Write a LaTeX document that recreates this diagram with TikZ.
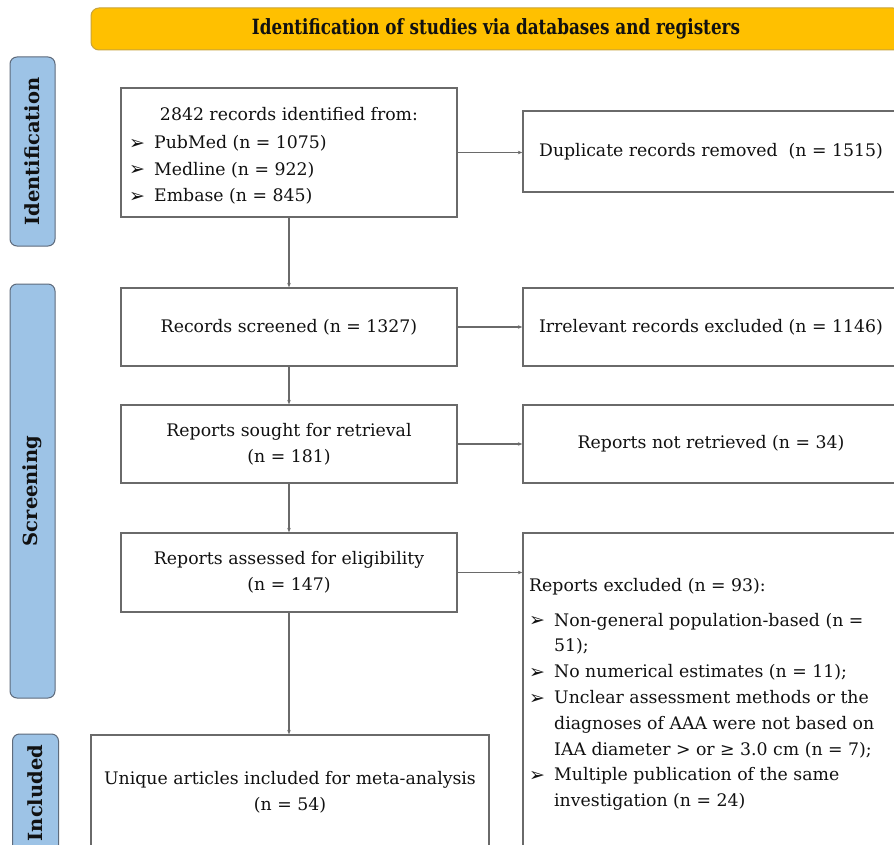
\documentclass[tikz,border=0pt]{standalone}
\usepackage{fontspec}
\setmainfont{DejaVu Serif}
\newfontfamily\symf{DejaVu Sans}
\usetikzlibrary{arrows.meta}
\definecolor{bannerfill}{HTML}{FFC000}
\definecolor{bannerdraw}{HTML}{C9A43A}
\definecolor{sidefill}{HTML}{9DC3E6}
\definecolor{sidedraw}{HTML}{5E6B7C}
\definecolor{linegray}{HTML}{6A6A6A}
\definecolor{textcol}{HTML}{111111}
\newcommand\mainsz{\fontsize{17.3}{25.8}\selectfont}
\newcommand\bul{\makebox[25pt][l]{\raisebox{-0.5pt}{\symf\fontsize{19}{19}\selectfont ➢}}}
\begin{document}
\begin{tikzpicture}[x=1pt,y=1pt,
  box/.style={draw=linegray, line width=1.3pt, rectangle, inner sep=0pt, fill=white, text=textcol, font=\mainsz, align=center},
  side/.style={draw=sidedraw, fill=sidefill, rounded corners=7pt, line width=1pt, text=textcol, font=\fontsize{19.5}{19.5}\selectfont\bfseries, inner sep=0pt},
  conn/.style={draw=linegray, line width=1.2pt, -{Stealth[length=4.5pt,width=3.5pt]}},
  txt/.style={text=textcol, font=\mainsz, inner sep=0pt}
]
\useasboundingbox (0,0) rectangle (894,-845);
\clip (0,0) rectangle (894,-845);
\fill[white] (0,0) rectangle (894,-845);

% banner
\node[draw=bannerdraw, fill=bannerfill, rounded corners=8pt, line width=1pt,
      minimum width=810pt, minimum height=42pt, inner sep=0pt, text=textcol]
  (banner) at (496,-29) {\scalebox{0.8}[1]{\fontsize{21}{21}\selectfont\bfseries Identification of studies via databases and registers}};

% side bars
\node[side, rotate=90, minimum width=189pt, minimum height=45pt] (sideid) at (32.5,-151.5) {Identification};
\node[side, rotate=90, minimum width=414pt, minimum height=45pt] (sidescr) at (32.5,-491) {Screening};
\node[side, rotate=90, minimum width=118pt, minimum height=46pt] (sideinc) at (35.5,-793) {Included};

% left column
\node[box, minimum width=336pt, minimum height=129pt] (ident) at (289,-152.5) {};
\node[txt, anchor=base] (identhead) at (289,-121) {2842 records identified from:};
\node[txt, anchor=north west, align=left, font=\fontsize{17.3}{26.5}\selectfont] (identlist) at (129,-135.5)
  {\bul PubMed (n = 1075)\\ \bul Medline (n = 922)\\ \bul Embase (n = 845)};

\node[box, minimum width=336pt, minimum height=78pt] (scr) at (289,-327) {Records screened (n = 1327)};
\node[box, minimum width=336pt, minimum height=78pt] (sought) at (289,-444) {Reports sought for retrieval\\(n = 181)};
\node[box, minimum width=336pt, minimum height=79pt] (assess) at (289,-572.5) {Reports assessed for eligibility\\(n = 147)};
\node[box, minimum width=398pt, minimum height=114pt] (incl) at (290,-792) {Unique articles included for meta-analysis\\(n = 54)};

% right column
\node[box, minimum width=376pt, minimum height=81pt] (dup) at (711,-151.5) {Duplicate records removed\ \ (n = 1515)};
\node[box, minimum width=376pt, minimum height=78pt] (irr) at (711,-327) {Irrelevant records excluded (n = 1146)};
\node[box, minimum width=376pt, minimum height=78pt] (notret) at (711,-444) {Reports not retrieved (n = 34)};
\node[box, minimum width=376pt, minimum height=320pt] (excl) at (711,-693) {};
\node[txt, anchor=north west, align=left] (excltext) at (529,-578)
  {Reports excluded (n = 93):\\[9pt]
   \bul Non-general population-based (n =\\
   \hspace*{25pt}51);\\
   \bul No numerical estimates (n = 11);\\
   \bul Unclear assessment methods or the\\
   \hspace*{25pt}diagnoses of AAA were not based on\\
   \hspace*{25pt}IAA diameter > or ≥ 3.0 cm (n = 7);\\
   \bul Multiple publication of the same\\
   \hspace*{25pt}investigation (n = 24)};

% connectors
\draw[conn] (ident.south) -- (scr.north);
\draw[conn] (scr.south) -- (sought.north);
\draw[conn] (sought.south) -- (assess.north);
\draw[conn] (assess.south) -- (assess.south |- incl.north);
\draw[conn] (ident.east) -- (ident.east -| dup.west);
\draw[conn] (scr.east) -- (irr.west);
\draw[conn] (sought.east) -- (notret.west);
\draw[conn] (assess.east) -- (assess.east -| excl.west);
\end{tikzpicture}
\end{document}
